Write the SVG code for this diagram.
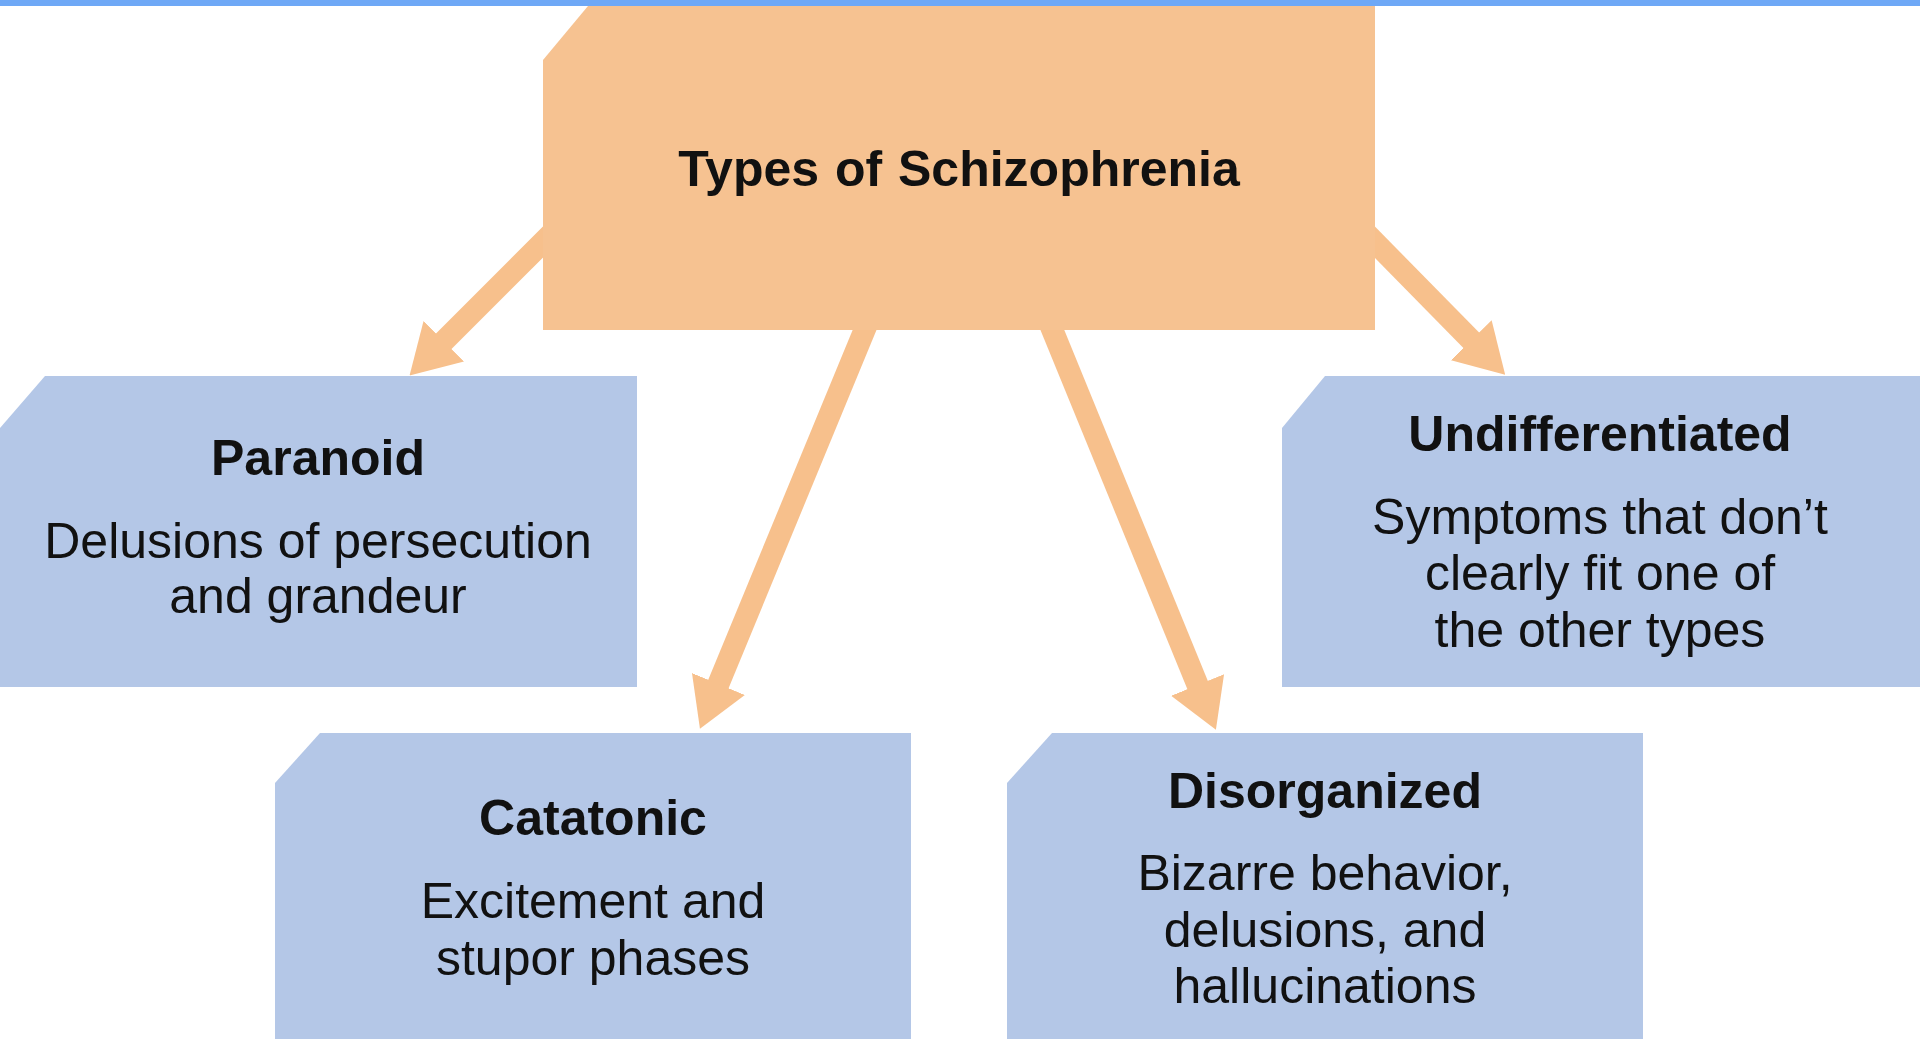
<svg xmlns="http://www.w3.org/2000/svg" width="1920" height="1039" viewBox="0 0 1920 1039">
  <style>
    .main { fill: #f6c291; }
    .sub { fill: #b4c7e7; }
    .conn { stroke: #f7c08c; stroke-width: 22; fill: none; marker-end: url(#head); }
    text { font-family: "Liberation Sans", Arial, sans-serif; font-size: 50px; fill: #111; text-anchor: middle; }
    .b { font-weight: bold; }
    .t { word-spacing: 2px; }
  </style>
  <defs>
    <marker id="head" viewBox="0 0 2.2 2.6" refX="0.05" refY="1.3" markerWidth="2.2" markerHeight="2.6" orient="auto" markerUnits="strokeWidth">
      <path d="M0,0 L2.2,1.3 L0,2.6 Z" fill="#f7c08c"/>
    </marker>
  </defs>
  <rect x="0" y="0" width="1920" height="1039" fill="#ffffff"/>

  <g id="connectors">
    <line class="conn" x1="560" y1="225" x2="443" y2="342"/>
    <line class="conn" x1="1357" y1="224" x2="1472" y2="341"/>
    <line class="conn" x1="872" y1="312" x2="718" y2="685"/>
    <line class="conn" x1="1045" y1="312" x2="1198" y2="686"/>
  </g>

  <g id="types">
    <polygon class="main" points="543,60 588,6 1375,6 1375,330 543,330"/>
    <text class="b t" x="959" y="186">Types of Schizophrenia</text>
  </g>

  <g id="paranoid">
    <polygon class="sub" points="0,428 45,376 637,376 637,687 0,687"/>
    <text class="b" x="318" y="475">Paranoid</text>
    <text x="318" y="558">Delusions of persecution</text>
    <text x="318" y="613">and grandeur</text>
  </g>

  <g id="undifferentiated">
    <polygon class="sub" points="1282,428 1325,376 1920,376 1920,687 1282,687"/>
    <text class="b" x="1600" y="451">Undifferentiated</text>
    <text x="1600" y="534">Symptoms that don’t</text>
    <text x="1600" y="590">clearly fit one of</text>
    <text x="1600" y="647">the other types</text>
  </g>

  <g id="catatonic">
    <polygon class="sub" points="275,783 320,733 911,733 911,1039 275,1039"/>
    <text class="b" x="593" y="835">Catatonic</text>
    <text x="593" y="918">Excitement and</text>
    <text x="593" y="975">stupor phases</text>
  </g>

  <g id="disorganized">
    <polygon class="sub" points="1007,783 1052,733 1643,733 1643,1039 1007,1039"/>
    <text class="b" x="1325" y="808">Disorganized</text>
    <text x="1325" y="890">Bizarre behavior,</text>
    <text x="1325" y="947">delusions, and</text>
    <text x="1325" y="1003">hallucinations</text>
  </g>

  <rect id="topbar" x="0" y="0" width="1920" height="6" fill="#6ea8f6"/>
</svg>
